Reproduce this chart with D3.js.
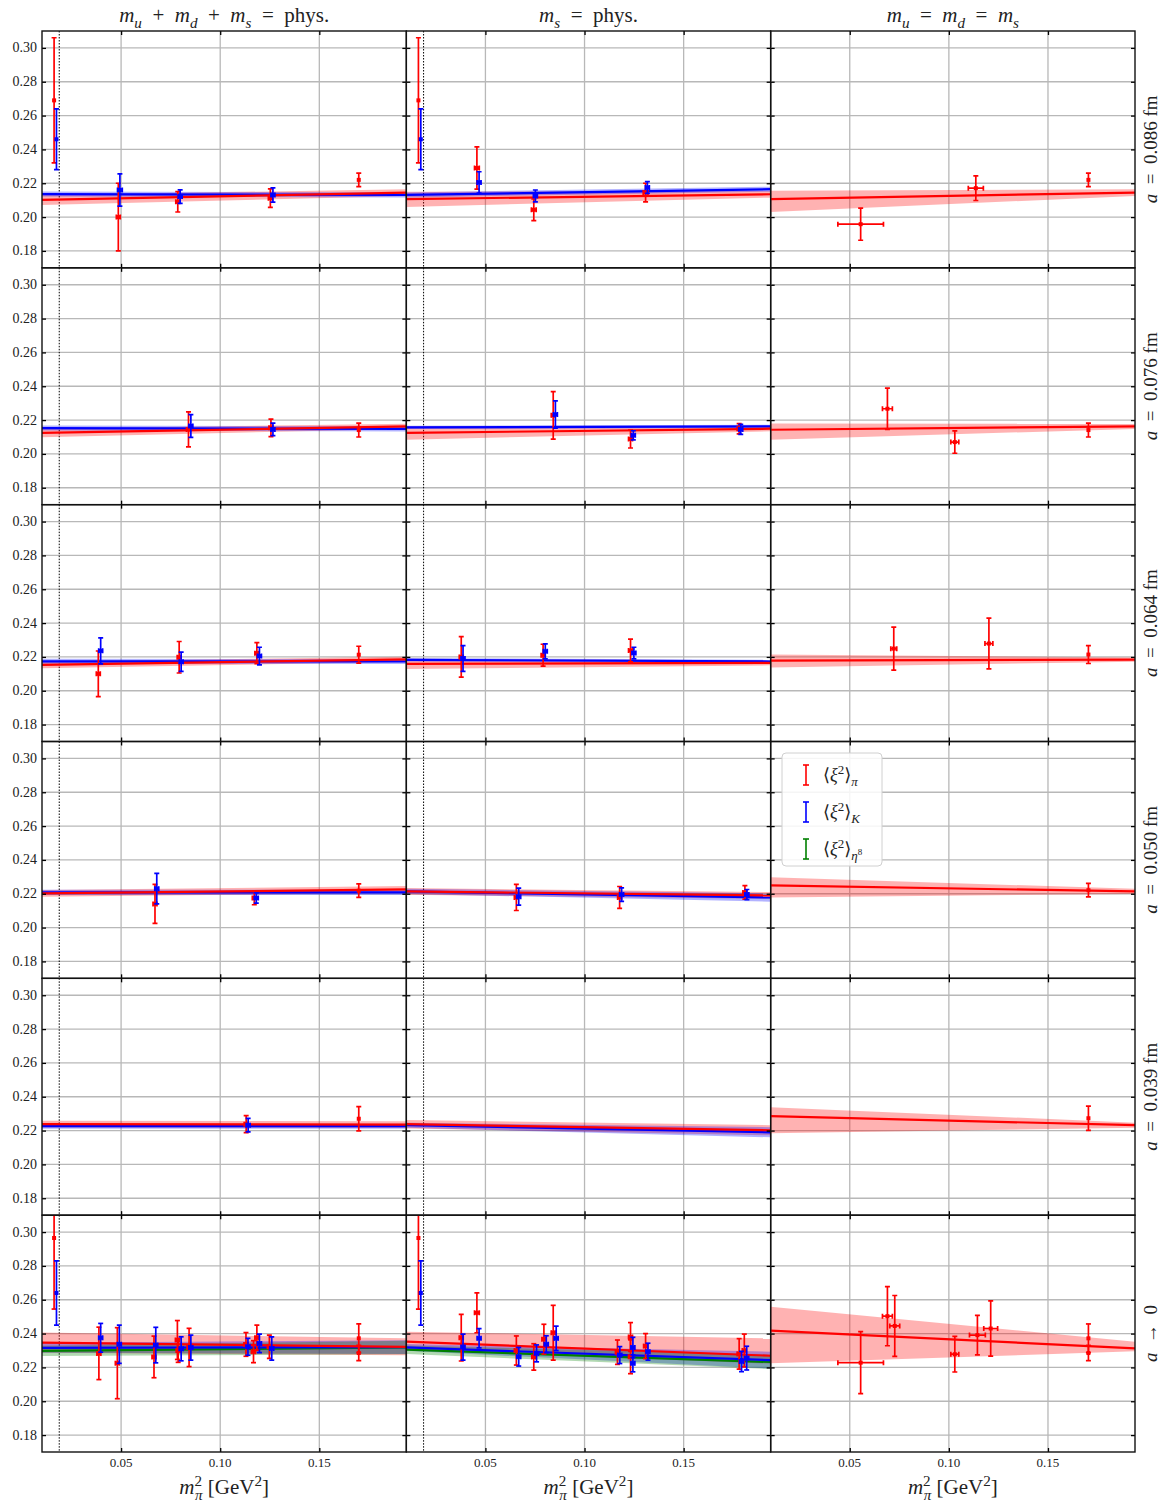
<!DOCTYPE html>
<html>
<head>
<meta charset="utf-8">
<script src="https://cdn.jsdelivr.net/npm/d3@7"></script>
<style>
body{margin:0;background:#fff}
text{font-family:"Liberation Serif","DejaVu Serif",serif;fill:#222}
</style>
</head>
<body>
<div id="container"></div>
<script>
// row labels (lattice spacing)
var rowLabels = ["0.086 fm","0.076 fm","0.064 fm","0.050 fm","0.039 fm","0"]
var rowOps = ["=","=","=","=","=","\u2192"]
var yTicks = [0.18,0.20,0.22,0.24,0.26,0.28,0.30]
var xTicks = [0.05,0.10,0.15]
var physPoint = 0.0188

// points: [row, col, m_pi^2, value, yerr, xerr]
var piPoints = [
 [0,0,0.0162,0.269,0.037,0],[0,0,0.0486,0.200,0.020,0.001],[0,0,0.0786,0.209,0.006,0.001],[0,0,0.1253,0.2112,0.0055,0.001],[0,0,0.1699,0.222,0.004,0],
 [0,1,0.0162,0.269,0.037,0],[0,1,0.0457,0.229,0.0125,0.0012],[0,1,0.0744,0.2043,0.0064,0.0012],[0,1,0.1308,0.2145,0.0055,0.0012],
 [0,2,0.0555,0.1958,0.0095,0.0115],[0,2,0.1136,0.2171,0.0073,0.0038],[0,2,0.1704,0.222,0.004,0],
 [1,0,0.084,0.2145,0.0103,0.001],[1,0,0.1256,0.2154,0.0052,0.001],[1,0,0.1699,0.2141,0.0041,0],
 [1,1,0.0842,0.2228,0.014,0.001],[1,1,0.1232,0.2088,0.0053,0.001],[1,1,0.178,0.2149,0.003,0.001],
 [1,2,0.069,0.2267,0.0122,0.0025],[1,2,0.103,0.2070,0.0066,0.002],[1,2,0.1704,0.2141,0.0041,0],
 [2,0,0.0385,0.210,0.0135,0.001],[2,0,0.0793,0.2198,0.0093,0.001],[2,0,0.1185,0.2222,0.0062,0.001],[2,0,0.1699,0.2213,0.005,0],
 [2,1,0.0378,0.220,0.012,0.001],[2,1,0.0791,0.2210,0.0065,0.001],[2,1,0.1232,0.2238,0.0067,0.001],
 [2,2,0.0722,0.2249,0.0127,0.0015],[2,2,0.1202,0.2279,0.015,0.002],[2,2,0.1704,0.2214,0.0053,0],
 [3,0,0.0671,0.2140,0.0115,0.001],[3,0,0.1172,0.2175,0.004,0.001],[3,0,0.1699,0.2218,0.004,0],
 [3,1,0.0656,0.2178,0.0077,0.001],[3,1,0.1177,0.2178,0.0065,0.001],[3,1,0.1809,0.2208,0.004,0.001],
 [3,2,0.1704,0.2221,0.004,0],
 [4,0,0.1131,0.2238,0.005,0.001],[4,0,0.1699,0.2270,0.0072,0],
 [4,2,0.1704,0.2273,0.0072,0],
 [5,0,0.0162,0.2965,0.042,0],[5,0,0.0388,0.2283,0.0155,0.001],[5,0,0.0481,0.2225,0.021,0.001],[5,0,0.0666,0.2262,0.0123,0.001],
 [5,0,0.0784,0.2362,0.0115,0.001],[5,0,0.0788,0.2300,0.007,0.001],[5,0,0.0843,0.2318,0.0113,0.001],[5,0,0.113,0.2336,0.007,0.001],
 [5,0,0.1168,0.2293,0.0065,0.001],[5,0,0.1185,0.2376,0.0074,0.001],[5,0,0.1248,0.2322,0.0069,0.001],[5,0,0.1699,0.2372,0.0085,0],[5,0,0.1699,0.2285,0.0045,0],
 [5,1,0.0162,0.2965,0.042,0],[5,1,0.0378,0.2376,0.0138,0.001],[5,1,0.0457,0.2523,0.0118,0.0012],[5,1,0.0656,0.2300,0.0086,0.001],
 [5,1,0.0744,0.2262,0.0078,0.001],[5,1,0.0795,0.2367,0.0088,0.001],[5,1,0.0842,0.2405,0.0162,0.001],[5,1,0.1166,0.2290,0.0072,0.001],
 [5,1,0.1232,0.2380,0.0085,0.001],[5,1,0.1232,0.2263,0.010,0.001],[5,1,0.1308,0.2326,0.0074,0.001],[5,1,0.1780,0.2280,0.009,0.001],[5,1,0.1806,0.2300,0.0097,0.001],
 [5,2,0.0555,0.2228,0.0183,0.0115],[5,2,0.069,0.2503,0.0175,0.0025],[5,2,0.0727,0.2445,0.018,0.0025],[5,2,0.103,0.2278,0.0105,0.002],
 [5,2,0.1144,0.2391,0.0117,0.004],[5,2,0.1211,0.2430,0.0163,0.0035],[5,2,0.1704,0.2372,0.0085,0],[5,2,0.1704,0.2285,0.0045,0]
]
var kPoints = [
 [0,0,0.0174,0.2460,0.018,0],[0,0,0.0494,0.2160,0.0095,0.0012],[0,0,0.0798,0.2121,0.004,0.001],[0,0,0.1266,0.2131,0.0042,0.001],
 [0,1,0.0174,0.2460,0.018,0],[0,1,0.0468,0.2205,0.0063,0.001],[0,1,0.0752,0.2125,0.0035,0.001],[0,1,0.1317,0.2175,0.0035,0.001],
 [1,0,0.0852,0.2165,0.0067,0.001],[1,0,0.1266,0.2145,0.0037,0.001],
 [1,1,0.0853,0.2233,0.008,0.001],[1,1,0.1246,0.2110,0.0027,0.001],[1,1,0.1788,0.2145,0.003,0.001],
 [2,0,0.0397,0.2236,0.0077,0.001],[2,0,0.0803,0.2171,0.0057,0.001],[2,0,0.1198,0.2205,0.0052,0.001],
 [2,1,0.0387,0.2191,0.0076,0.001],[2,1,0.0802,0.2233,0.0044,0.001],[2,1,0.1249,0.2223,0.0034,0.001],
 [3,0,0.0680,0.2230,0.009,0.001],[3,0,0.1182,0.2175,0.003,0.001],
 [3,1,0.0668,0.2183,0.005,0.001],[3,1,0.1187,0.2195,0.004,0.001],[3,1,0.1819,0.2195,0.003,0.001],
 [4,0,0.1141,0.2232,0.004,0.001],
 [5,0,0.0174,0.2640,0.019,0],[5,0,0.0397,0.2375,0.0085,0.001],[5,0,0.0491,0.2337,0.0113,0.001],[5,0,0.0675,0.2332,0.0105,0.001],
 [5,0,0.0803,0.2310,0.0071,0.001],[5,0,0.0852,0.2317,0.0074,0.001],[5,0,0.1140,0.2322,0.005,0.001],[5,0,0.1198,0.2342,0.0055,0.001],[5,0,0.1260,0.2312,0.0069,0.001],
 [5,1,0.0174,0.2640,0.019,0],[5,1,0.0387,0.2320,0.0077,0.001],[5,1,0.0468,0.2372,0.0057,0.001],[5,1,0.0668,0.2263,0.0055,0.001],
 [5,1,0.0758,0.2283,0.005,0.001],[5,1,0.0807,0.2337,0.005,0.001],[5,1,0.0857,0.2372,0.0072,0.001],[5,1,0.1178,0.2273,0.005,0.001],
 [5,1,0.1244,0.2318,0.006,0.001],[5,1,0.1244,0.2224,0.005,0.001],[5,1,0.1320,0.2293,0.005,0.001],[5,1,0.1792,0.2235,0.006,0.001],[5,1,0.1818,0.2255,0.007,0.001]
]

// fits: [row, col, value left, value right, band lo left, band hi left, band lo right, band hi right]
var piFits = [
 [0,0,0.2102,0.2145,0.2072,0.2130,0.2125,0.2165],[0,1,0.2106,0.2135,0.2060,0.2150,0.2115,0.2155],[0,2,0.2106,0.2145,0.2030,0.2155,0.2125,0.2165],
 [1,0,0.2124,0.2163,0.2099,0.2149,0.2148,0.2178],[1,1,0.2124,0.2149,0.2084,0.2164,0.2134,0.2164],[1,2,0.2143,0.2163,0.2084,0.2180,0.2148,0.2178],
 [2,0,0.2153,0.2186,0.2133,0.2173,0.2171,0.2201],[2,1,0.2159,0.2165,0.2129,0.2189,0.2150,0.2180],[2,2,0.2178,0.2184,0.2137,0.2214,0.2172,0.2196],
 [3,0,0.2202,0.2226,0.2182,0.2222,0.2206,0.2246],[3,1,0.2214,0.2190,0.2194,0.2234,0.2170,0.2210],[3,2,0.2249,0.2214,0.2178,0.2297,0.2199,0.2229],
 [4,0,0.2238,0.2235,0.2218,0.2258,0.2215,0.2255],[4,1,0.2238,0.2202,0.2213,0.2263,0.2172,0.2232],[4,2,0.2285,0.2232,0.2184,0.2338,0.2217,0.2247],
 [5,0,0.2346,0.2322,0.2286,0.2406,0.2272,0.2372],[5,1,0.2352,0.2269,0.2306,0.2411,0.2222,0.2372],[5,2,0.2417,0.2313,0.2224,0.2558,0.2295,0.2352]
]
var kFits = [
 [0,0,0.2136,0.2131,0.2121,0.2151,0.2116,0.2146],[0,1,0.2131,0.2165,0.2116,0.2146,0.2150,0.2180],
 [1,0,0.2153,0.2148,0.2138,0.2168,0.2133,0.2163],[1,1,0.2157,0.2163,0.2147,0.2167,0.2153,0.2173],
 [2,0,0.2174,0.2173,0.2159,0.2189,0.2158,0.2188],[2,1,0.2183,0.2173,0.2173,0.2193,0.2163,0.2183],
 [3,0,0.2208,0.2208,0.2193,0.2223,0.2193,0.2223],[3,1,0.2214,0.2178,0.2199,0.2229,0.2153,0.2203],
 [4,0,0.2226,0.2226,0.2211,0.2241,0.2211,0.2241],[4,1,0.2232,0.2190,0.2217,0.2247,0.2160,0.2220],
 [5,0,0.2316,0.2320,0.2286,0.2346,0.2280,0.2360],[5,1,0.2318,0.2243,0.2298,0.2338,0.2193,0.2293]
]
var etaFits = [
 [5,0,0.2298,0.2318,0.2268,0.2328,0.2278,0.2358],[5,1,0.2305,0.2232,0.2280,0.2330,0.2190,0.2275]
]

var W = 1165, H = 1503
var marginL = 42, marginT = 31
var pw = (1135-42)/3, ph = (1452-31)/6
var xDomain = [0.0101,0.1939], yDomain = [0.17,0.31]

var xScale = d3.scaleLinear().domain(xDomain).range([0,pw])
var yScale = d3.scaleLinear().domain(yDomain).range([ph,0])

var red = "#ff0000", blue = "#0000ff", green = "#008000"
var sp = "\u2002"

var svg = d3.select("#container").append("svg").attr("width",W).attr("height",H)

// math-ish text: parts of [string, kind, dx]
function mtext(g, parts, x, y, size, anchor){
    var t = g.append("text").attr("x",x).attr("y",y).attr("font-size",size).attr("text-anchor",anchor||"middle")
    var shift = 0
    parts.forEach(function(p){
        var kind = p[1]
        var want = 0, fs = size
        if(kind=="sub"||kind=="subi"){want = size*0.28; fs = size*0.72}
        if(kind=="sup"){want = -size*0.4; fs = size*0.72}
        if(kind=="subsup"){want = size*0.02; fs = size*0.5}
        var ts = t.append("tspan").text(p[0]).attr("dy",want-shift).attr("font-size",fs)
        if(kind=="i"||kind=="subi") ts.attr("font-style","italic")
        if(p[2]) ts.attr("dx",p[2])
        shift = want
    })
    return t
}

function panelFits(g, fits, color, r, c){
    fits.filter(function(f){return f[0]==r && f[1]==c}).forEach(function(f){
        var band = [{x:xDomain[0],lo:f[4],hi:f[5]},{x:xDomain[1],lo:f[6],hi:f[7]}]
        g.append("path").attr("fill",color).attr("opacity",0.3)
            .attr("d",d3.area().x(function(d){return xScale(d.x)}).y0(function(d){return yScale(d.lo)}).y1(function(d){return yScale(d.hi)})(band))
    })
}
function panelLines(g, fits, color, r, c){
    fits.filter(function(f){return f[0]==r && f[1]==c}).forEach(function(f){
        var line = [{x:xDomain[0],y:f[2]},{x:xDomain[1],y:f[3]}]
        g.append("path").attr("fill","none").attr("stroke",color).attr("stroke-width",2.2)
            .attr("d",d3.line().x(function(d){return xScale(d.x)}).y(function(d){return yScale(d.y)})(line))
    })
}
function panelPoints(g, pts, color, r, c){
    pts.filter(function(p){return p[0]==r && p[1]==c}).forEach(function(p){
        var px = xScale(p[2]), py = yScale(p[3])
        var y1 = yScale(p[3]+p[4]), y2 = yScale(p[3]-p[4])
        var e = g.append("g").attr("stroke",color).attr("stroke-width",1.7)
        e.append("line").attr("x1",px).attr("x2",px).attr("y1",y1).attr("y2",y2)
        e.append("line").attr("x1",px-2.5).attr("x2",px+2.5).attr("y1",y1).attr("y2",y1)
        e.append("line").attr("x1",px-2.5).attr("x2",px+2.5).attr("y1",y2).attr("y2",y2)
        if(p[5]>0){
            var x1 = xScale(p[2]-p[5]), x2 = xScale(p[2]+p[5])
            e.append("line").attr("x1",x1).attr("x2",x2).attr("y1",py).attr("y2",py)
            e.append("line").attr("x1",x1).attr("x2",x1).attr("y1",py-2.5).attr("y2",py+2.5)
            e.append("line").attr("x1",x2).attr("x2",x2).attr("y1",py-2.5).attr("y2",py+2.5)
        }
        g.append("rect").attr("x",px-2).attr("y",py-2).attr("width",4).attr("height",4).attr("fill",color)
    })
}

for(var r=0;r<6;r++){
    for(var c=0;c<3;c++){
        var g = svg.append("g").attr("transform","translate("+(marginL+c*pw)+","+(marginT+r*ph)+")")
        var cid = "clip"+r+"_"+c
        g.append("clipPath").attr("id",cid).append("rect").attr("width",pw).attr("height",ph)

        // grid
        g.append("g").selectAll("line").data(yTicks).enter().append("line")
            .attr("x1",0).attr("x2",pw).attr("y1",function(d){return yScale(d)}).attr("y2",function(d){return yScale(d)})
            .attr("stroke","#b8b8b8").attr("stroke-width",1.3)
        g.append("g").selectAll("line").data(xTicks).enter().append("line")
            .attr("y1",0).attr("y2",ph).attr("x1",function(d){return xScale(d)}).attr("x2",function(d){return xScale(d)})
            .attr("stroke","#b8b8b8").attr("stroke-width",1.3)

        var inner = g.append("g").attr("clip-path","url(#"+cid+")")
        if(c<2){
            inner.append("line").attr("x1",xScale(physPoint)).attr("x2",xScale(physPoint)).attr("y1",0).attr("y2",ph)
                .attr("stroke","#000").attr("stroke-width",1).attr("stroke-dasharray","1.5,1.5")
        }
        panelFits(inner,piFits,red,r,c)
        panelFits(inner,kFits,blue,r,c)
        panelFits(inner,etaFits,green,r,c)
        panelLines(inner,etaFits,green,r,c)
        panelLines(inner,kFits,blue,r,c)
        panelLines(inner,piFits,red,r,c)
        panelPoints(inner,piPoints,red,r,c)
        panelPoints(inner,kPoints,blue,r,c)

        // inward ticks
        var yAxL = d3.axisRight(yScale).tickValues(yTicks).tickSize(4).tickFormat("")
        var yAxR = d3.axisLeft(yScale).tickValues(yTicks).tickSize(4).tickFormat("")
        var xAxT = d3.axisBottom(xScale).tickValues(xTicks).tickSize(4).tickFormat("")
        var xAxB = d3.axisTop(xScale).tickValues(xTicks).tickSize(4).tickFormat("")
        ;[g.append("g").call(yAxL), g.append("g").attr("transform","translate("+pw+",0)").call(yAxR),
          g.append("g").call(xAxT), g.append("g").attr("transform","translate(0,"+ph+")").call(xAxB)].forEach(function(a){
            a.select(".domain").remove()
            a.selectAll("line").attr("stroke","#000").attr("stroke-width",1.3)
        })

        g.append("rect").attr("width",pw).attr("height",ph).attr("fill","none").attr("stroke","#111").attr("stroke-width",1.4)

        if(c==0){
            g.append("g").selectAll("text").data(yTicks).enter().append("text")
                .attr("x",-5).attr("y",function(d){return yScale(d)+4.5}).attr("text-anchor","end")
                .attr("font-size",14).text(function(d){return d3.format(".2f")(d)})
        }
        if(r==5){
            g.append("g").selectAll("text").data(xTicks).enter().append("text")
                .attr("x",function(d){return xScale(d)}).attr("y",ph+15).attr("text-anchor","middle")
                .attr("font-size",13).text(function(d){return d3.format(".2f")(d)})
            mtext(g,[["m","i"],["2","sup"],["\u03c0","subi",-7],[" [GeV","r"],["2","sup"],["]","r"]],pw/2,ph+42,21)
        }
    }
    var rl = svg.append("g").attr("transform","translate(1157,"+(marginT+r*ph+ph/2)+") rotate(-90)")
    mtext(rl,[["a","i"],[sp+rowOps[r]+sp+rowLabels[r],"r"]],0,0,19)
}

// column titles
mtext(svg,[["m","i"],["u","subi"],[sp+"+"+sp,"r"],["m","i"],["d","subi"],[sp+"+"+sp,"r"],["m","i"],["s","subi"],[sp+"="+sp+"phys.","r"]],marginL+pw/2,22,21)
mtext(svg,[["m","i"],["s","subi"],[sp+"="+sp+"phys.","r"]],marginL+pw*1.5,22,21)
mtext(svg,[["m","i"],["u","subi"],[sp+"="+sp,"r"],["m","i"],["d","subi"],[sp+"="+sp,"r"],["m","i"],["s","subi"]],marginL+pw*2.5,22,21)

// legend
var lg = svg.append("g").attr("transform","translate(782,753)")
lg.append("rect").attr("width",100).attr("height",113).attr("rx",4).attr("fill","#fff").attr("fill-opacity",0.85)
    .attr("stroke","#d0d0d0").attr("stroke-width",1)
var legendItems = [[red,[["\u27e8","r"],["\u03be","i"],["2","sup"],["\u27e9","r"],["\u03c0","subi"]]],
                   [blue,[["\u27e8","r"],["\u03be","i"],["2","sup"],["\u27e9","r"],["K","subi"]]],
                   [green,[["\u27e8","r"],["\u03be","i"],["2","sup"],["\u27e9","r"],["\u03b7","subi"],["8","subsup"]]]]
legendItems.forEach(function(it,i){
    var cy = 22+i*37
    var e = lg.append("g").attr("stroke",it[0]).attr("stroke-width",1.6)
    e.append("line").attr("x1",24).attr("x2",24).attr("y1",cy-10).attr("y2",cy+10)
    e.append("line").attr("x1",21).attr("x2",27).attr("y1",cy-10).attr("y2",cy-10)
    e.append("line").attr("x1",21).attr("x2",27).attr("y1",cy+10).attr("y2",cy+10)
    mtext(lg,it[1],41,cy+6,18,"start")
})
</script>
</body>
</html>
